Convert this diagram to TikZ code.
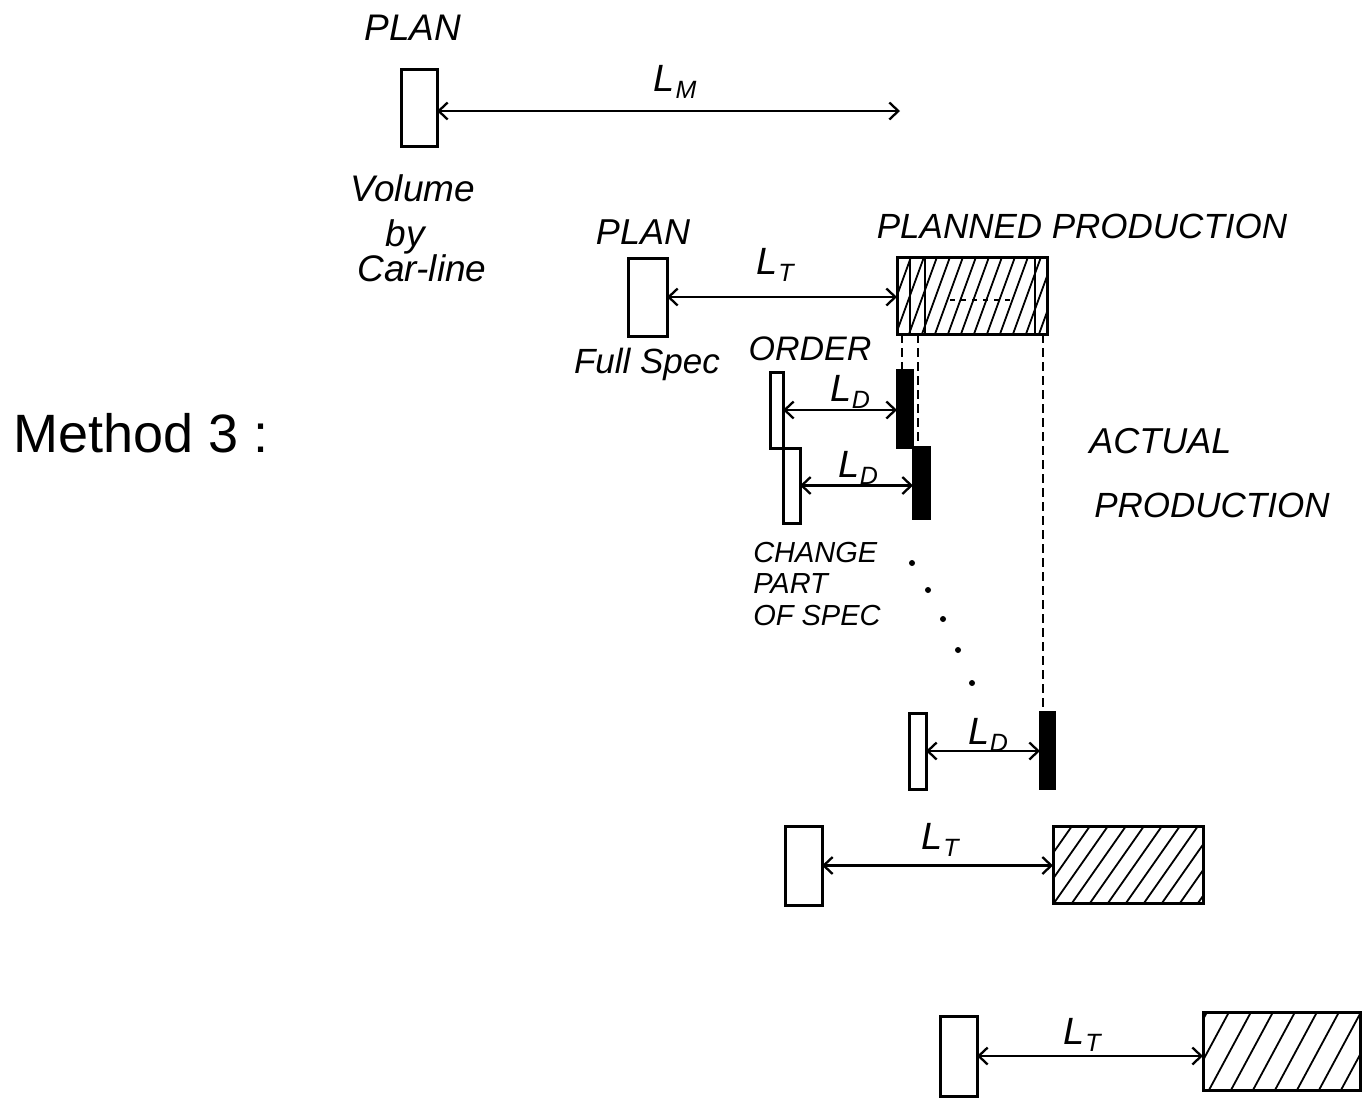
\documentclass[tikz,border=0pt]{standalone}
\usepackage{fontspec}
\setmainfont{Liberation Sans}
\usetikzlibrary{arrows.meta,calc}
\newcommand\Lsub[1]{L\kern0.02em\raisebox{-0.35ex}{\fontsize{25}{25}\selectfont #1}}
\begin{document}
\begin{tikzpicture}[x=1pt,y=-1pt,line width=2.5pt,
  bar/.style={draw, line width=3pt, inner sep=0pt, outer sep=0pt, fill=white},
  blk/.style={draw, line width=2pt, fill=black, inner sep=0pt, outer sep=0pt},
  dim/.style={{Straight Barb[length=9pt,width=17pt]}-{Straight Barb[length=9pt,width=17pt]}, line width=2.3pt},
  lab/.style={inner sep=0pt, font=\fontsize{38}{40}\selectfont\itshape},
  txt/.style={inner sep=0pt, font=\fontsize{#1}{#1}\selectfont\itshape},
  hatchline/.style={line width=1.8pt},
  guide/.style={dash pattern=on 9pt off 5pt, line width=2pt},
  dot/.style={fill=black, circle, inner sep=0pt, minimum size=6pt}]
\useasboundingbox (0,0) rectangle (1372,1109);

% ---------- top: volume plan ----------
\node[txt=37] (tplan) at (413,28) {PLAN};
\node[bar, minimum width=36pt, minimum height=77pt] (p1) at (419,107.5) {};
\coordinate (lmend) at (900,111);
\draw[dim] (p1.east |- lmend) -- (lmend);
\node[lab] (lm) at (675,82) {\Lsub{M}};
\node[txt=37] (vol) at (413,188) {Volume};
\node[txt=37] (by) at (405,237) {by};
\node[txt=37] (car) at (422,268) {Car-line};

% ---------- full spec plan ----------
\node[txt=36] (plan2) at (643,232) {PLAN};
\node[bar, minimum width=39pt, minimum height=78pt] (p2) at (647.5,297) {};
\node[txt=35] (fspec) at (647,364) {Full Spec};

\node[txt=35] (pptext) at (1082,226) {PLANNED PRODUCTION};
\node[bar, minimum width=150pt, minimum height=77pt] (pp) at (972,295.5) {};
\begin{scope}
  \clip (pp.south west) rectangle (pp.north east);
  \foreach \x in {870,883,...,1050} \draw[hatchline] (\x,334) -- ++(28,-77);
\end{scope}
\draw[line width=2.4pt] (910,257) -- (910,334);
\draw[line width=2.4pt] (925,257) -- (925,334);
\draw[line width=2.4pt] (1035,257) -- (1035,334);
\draw[dash pattern=on 5pt off 6pt, line width=2pt] (950,300) -- (1014,300);
\node[bar, fill=none, minimum width=150pt, minimum height=77pt] (ppf) at (972,295.5) {};
\draw[dim] (p2.east) -- (p2.east -| pp.west);
\node[lab] (lt1) at (775,265) {\Lsub{T}};

% ---------- orders ----------
\node[txt=34] (order) at (810,349) {ORDER};
\node[bar, minimum width=13pt, minimum height=76pt] (o1) at (776.5,410) {};
\node[bar, minimum width=17pt, minimum height=75pt] (o2) at (791.5,485.5) {};
\node[blk, minimum width=16pt, minimum height=78pt] (k1) at (905,409) {};
\node[blk, minimum width=17pt, minimum height=72pt] (k2) at (921.5,483) {};
\draw[dim] (o1.east) -- (o1.east -| k1.west);
\draw[dim] (o2.east) -- (o2.east -| k2.west);
\node[lab] (ld1) at (850,392) {\Lsub{D}};
\node[lab] (ld2) at (858,468) {\Lsub{D}};

\node[txt=29, anchor=base west] (ch1) at (752,562) {CHANGE};
\node[txt=29, anchor=base west] (ch2) at (752,593) {PART};
\node[txt=29, anchor=base west] (ch3) at (752,625) {OF SPEC};

\node[dot] (d1) at (912,563) {};
\node[dot] (d2) at (928,590) {};
\node[dot] (d3) at (943,619) {};
\node[dot] (d4) at (958,650) {};
\node[dot] (d5) at (972,683) {};

\node[bar, minimum width=17pt, minimum height=76pt] (o3) at (917.5,751) {};
\node[blk, minimum width=15pt, minimum height=77pt] (k3) at (1047.5,750.5) {};
\draw[dim] (o3.east) -- (o3.east -| k3.west);
\node[lab] (ld3) at (988,735) {\Lsub{D}};

% guide lines
\coordinate (g1) at ($(k1.north)+(-3,0)$);
\coordinate (g2) at ($(k2.north)+(-3.5,0)$);
\coordinate (g3) at ($(k3.north)+(-4.5,0)$);
\draw[guide] (g1 |- pp.south) -- (g1);
\draw[guide] (g2 |- pp.south) -- (g2);
\draw[guide] (g3 |- pp.south) -- (g3);

\node[txt=36, anchor=base west] (act1) at (1088,453) {ACTUAL};
\node[txt=35, anchor=base west] (act2) at (1093,517) {PRODUCTION};

% ---------- following plans ----------
\node[bar, minimum width=37pt, minimum height=79pt] (b1) at (803.5,865.5) {};
\node[bar, minimum width=150pt, minimum height=77pt] (h1) at (1128,864.5) {};
\begin{scope}
  \clip (h1.south west) rectangle (h1.north east);
  \foreach \x in {1000,1018,...,1210} \draw[hatchline] (\x,903) -- ++(54,-77);
\end{scope}
\node[bar, fill=none, minimum width=150pt, minimum height=77pt] (h1f) at (1128,864.5) {};
\draw[dim] (b1.east) -- (b1.east -| h1.west);
\node[lab] (lt2) at (940,840) {\Lsub{T}};

\node[bar, minimum width=37pt, minimum height=80pt] (b2) at (958.5,1056) {};
\node[bar, minimum width=157pt, minimum height=78pt] (h2) at (1281.5,1051) {};
\begin{scope}
  \clip (h2.south west) rectangle (h2.north east);
  \foreach \x in {1165,1187,...,1365} \draw[hatchline] (\x,1090) -- ++(42,-78);
\end{scope}
\node[bar, fill=none, minimum width=157pt, minimum height=78pt] (h2f) at (1281.5,1051) {};
\draw[dim] (b2.east) -- (b2.east -| h2.west);
\node[lab] (lt3) at (1082,1035) {\Lsub{T}};

% ---------- method label ----------
\node[inner sep=0pt, font=\fontsize{54}{54}\selectfont, anchor=base west] (meth) at (12,452) {Method 3 :};
\end{tikzpicture}
\end{document}
